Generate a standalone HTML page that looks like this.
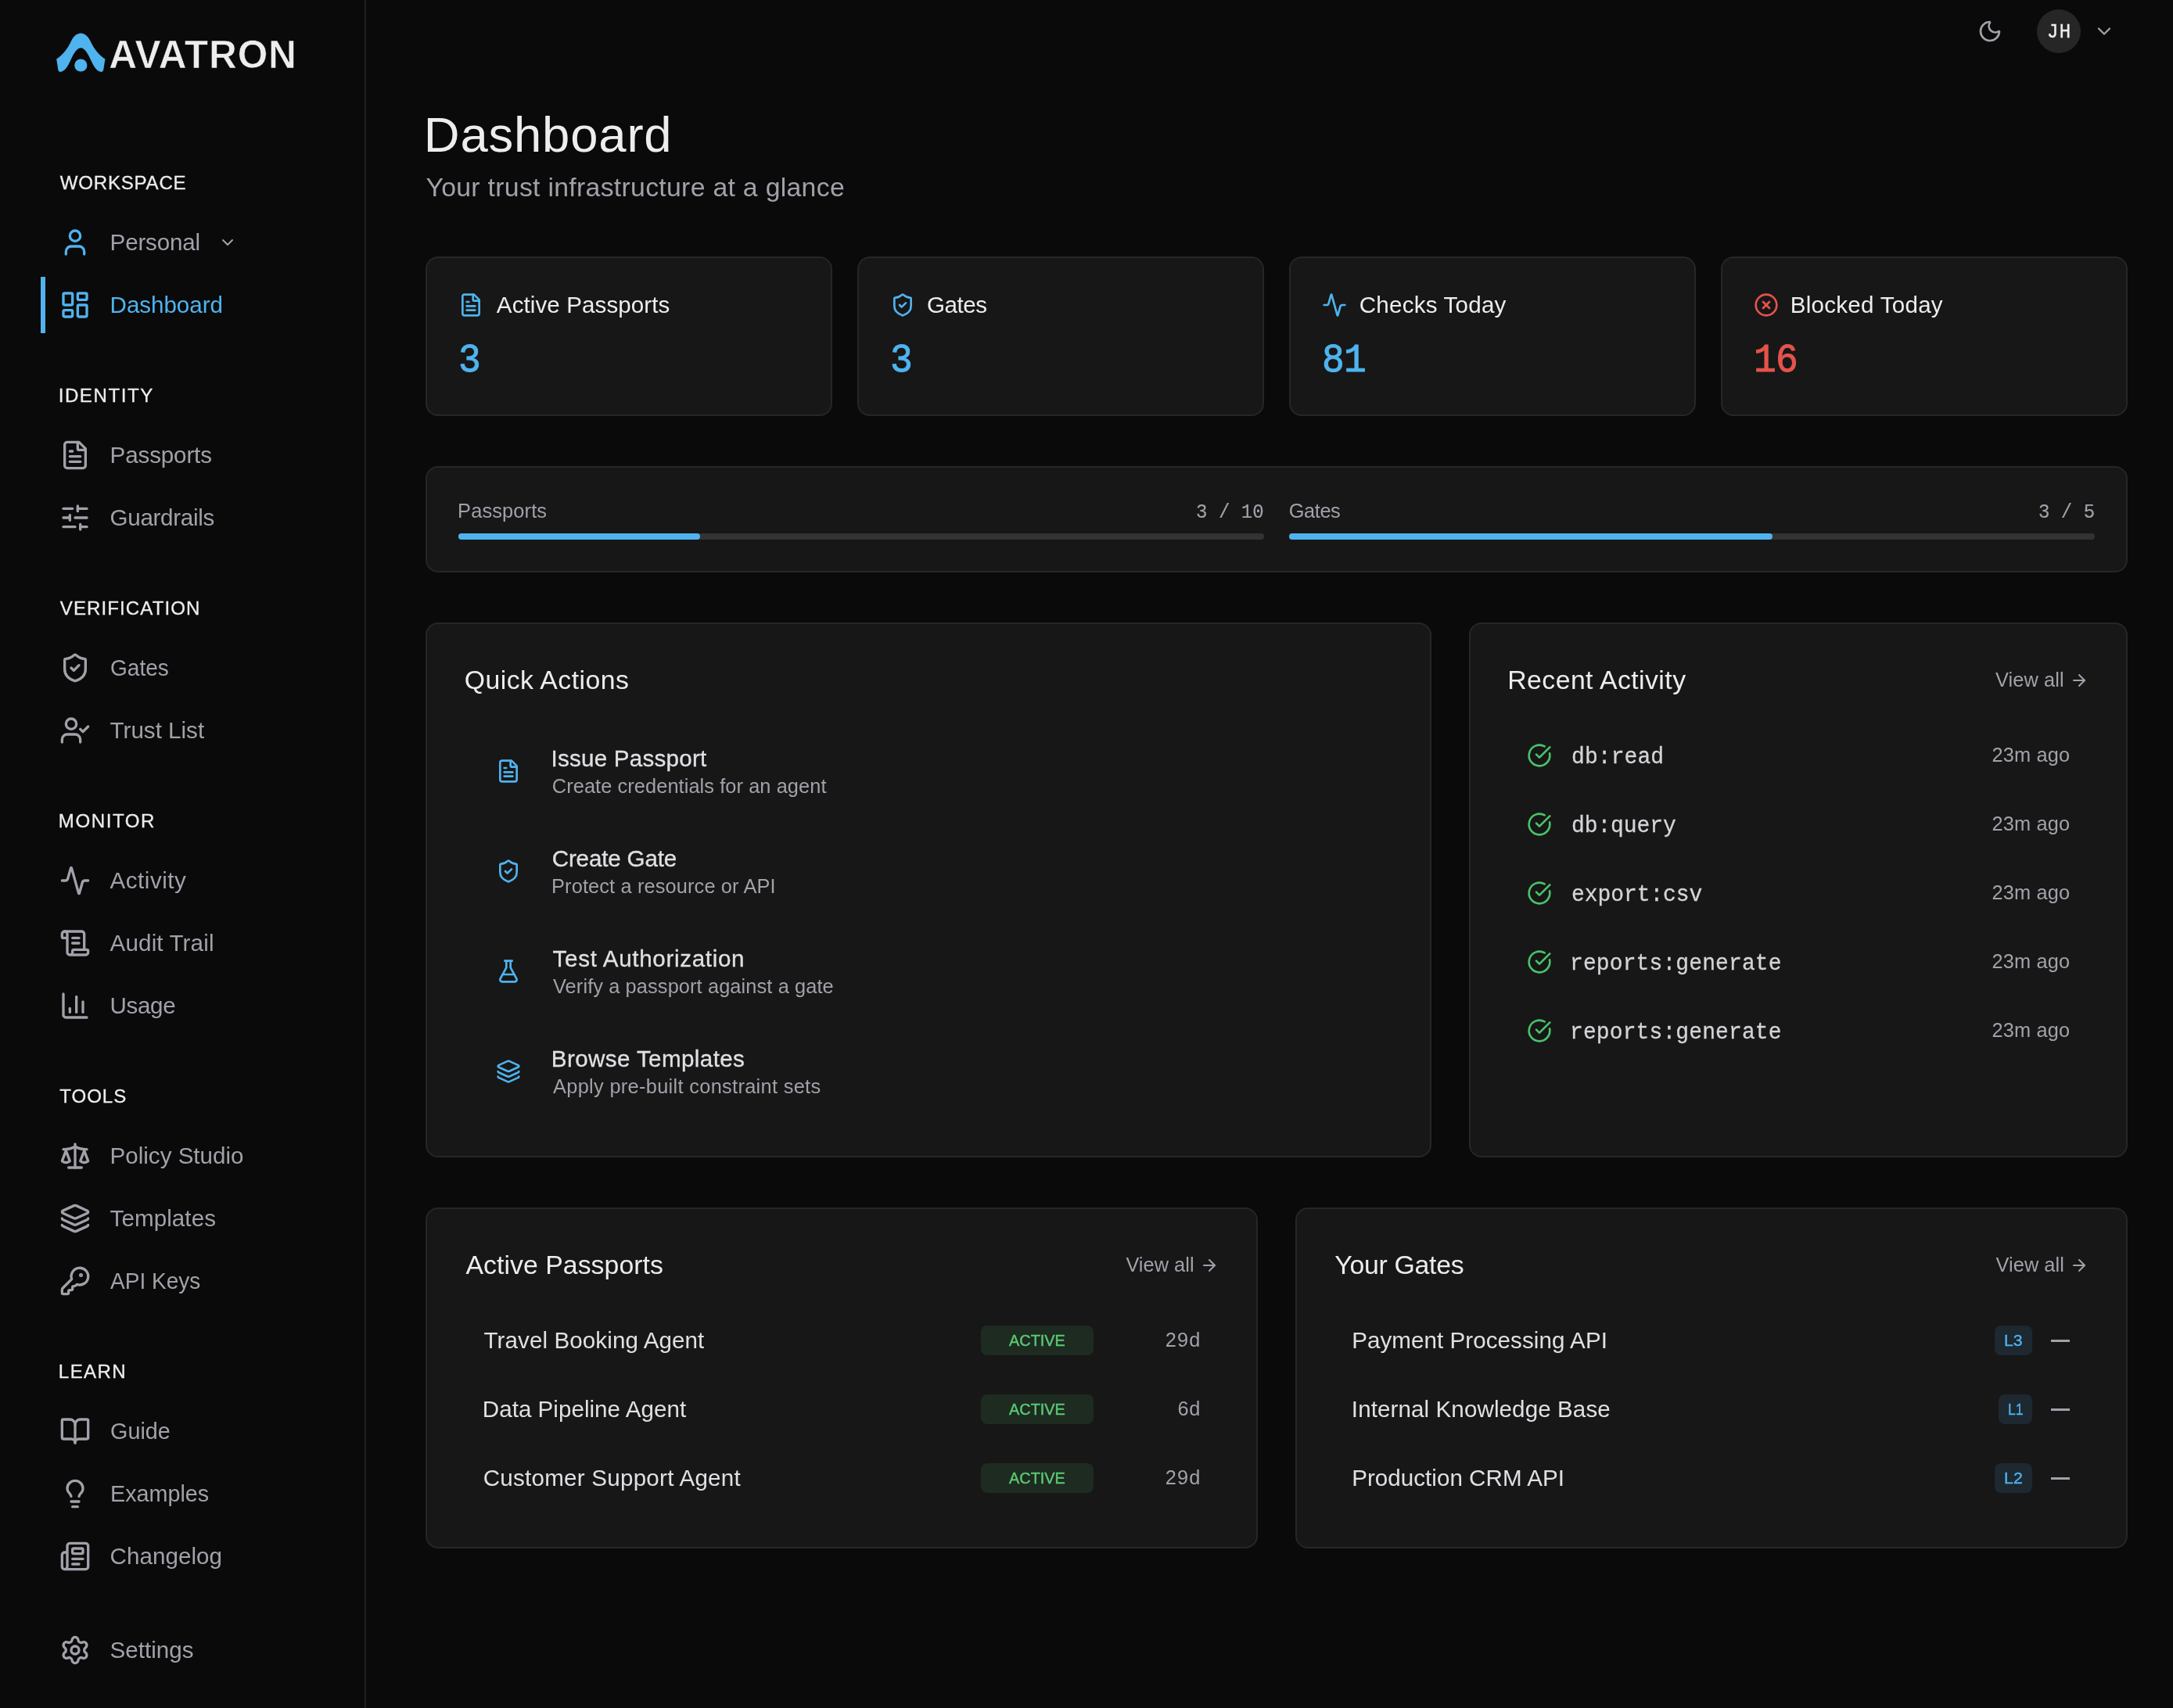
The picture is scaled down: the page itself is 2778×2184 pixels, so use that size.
<!DOCTYPE html>
<html lang="en">
<head>
<meta charset="utf-8">
<title>Avatron - Dashboard</title>
<style>
*{margin:0;padding:0;box-sizing:content-box}
html,body{width:2778px;height:2184px;overflow:hidden;background:#0a0a0a}
body{position:relative;font-family:"Liberation Sans", sans-serif;color:#ededed;will-change:transform}
.b,.i,.t{position:absolute;display:block}
.t{white-space:nowrap;line-height:1;font-weight:400;font-kerning:normal;transform-origin:0 0}
.i{overflow:visible}
.m{font-family:"Liberation Mono", monospace}
</style>
</head>
<body>
<aside>
<div class="b" style="left:0px;top:0px;width:466px;height:2184px;background:#0a0a0a;border-right:2px solid #1f1f1f;"></div>
<svg class="i" style="left:64px;top:34px" width="80" height="68" viewBox="64 34 80 68"><path fill="#4fb3ee" d="M72.2 75.4C80 70.5 86 63 91.3 51.9C94 46 98.5 42.4 103.3 42.4C108 42.4 112.5 46 115.3 51.9C120.5 63 126.5 70.5 134.4 75.4L132.3 89C132 91.6 129.5 92.6 127.5 91.6C122 89 119 83 115.5 75.4C112 68 108 61.3 103.3 61.3C98.5 61.3 94.5 68 91 75.4C87.5 83 84.5 89 79 91.6C77 92.6 74.5 91.6 74.3 89Z"/><circle fill="#4fb3ee" cx="103.3" cy="83.5" r="8.1"/></svg>
<span class="t" style="left:139.36px;top:45.70px;font-size:49.60px;color:#ededed;letter-spacing:0.901px;font-weight:700;-webkit-text-stroke:0.6px #0a0a0a;">AVATRON</span>
<span class="t" style="left:76.74px;top:221.95px;font-size:24.09px;color:#ededed;letter-spacing:0.774px;-webkit-text-stroke:0.3px currentColor;">WORKSPACE</span>
<svg class="i" style="left:76px;top:290px;color:#4fb3ee" width="40" height="40" viewBox="0 0 24 24" fill="none" stroke="currentColor" stroke-width="2" stroke-linecap="round" stroke-linejoin="round"><path d="M19 21v-2a4 4 0 0 0-4-4H9a4 4 0 0 0-4 4v2"/><circle cx="12" cy="7" r="4"/></svg>
<span class="t" style="left:140.60px;top:295.20px;font-size:29.59px;color:#a1a1aa;letter-spacing:-0.196px;">Personal</span>
<svg class="i" style="left:279.1px;top:298px;color:#a1a1aa" width="24" height="24" viewBox="0 0 24 24" fill="none" stroke="currentColor" stroke-width="2" stroke-linecap="round" stroke-linejoin="round"><path d="m6 9 6 6 6-6"/></svg>
<div class="b" style="left:52px;top:354px;width:6px;height:72px;background:#4fb3ee;"></div>
<svg class="i" style="left:76px;top:370px;color:#4fb3ee" width="40" height="40" viewBox="0 0 24 24" fill="none" stroke="currentColor" stroke-width="2" stroke-linecap="round" stroke-linejoin="round"><rect width="7" height="9" x="3" y="3" rx="1"/><rect width="7" height="5" x="14" y="3" rx="1"/><rect width="7" height="9" x="14" y="12" rx="1"/><rect width="7" height="5" x="3" y="16" rx="1"/></svg>
<span class="t" style="left:140.60px;top:375.20px;font-size:29.59px;color:#4fb3ee;letter-spacing:-0.049px;">Dashboard</span>
<span class="t" style="left:74.63px;top:493.95px;font-size:24.09px;color:#ededed;letter-spacing:1.578px;-webkit-text-stroke:0.3px currentColor;">IDENTITY</span>
<svg class="i" style="left:76px;top:562px;color:#a1a1aa" width="40" height="40" viewBox="0 0 24 24" fill="none" stroke="currentColor" stroke-width="2" stroke-linecap="round" stroke-linejoin="round"><path d="M15 2H6a2 2 0 0 0-2 2v16a2 2 0 0 0 2 2h12a2 2 0 0 0 2-2V7Z"/><path d="M14 2v5a1 1 0 0 0 1 1h5"/><path d="M10 9H8"/><path d="M16 13H8"/><path d="M16 17H8"/></svg>
<span class="t" style="left:140.60px;top:567.21px;font-size:29.59px;color:#a1a1aa;letter-spacing:-0.143px;">Passports</span>
<svg class="i" style="left:76px;top:642px;color:#a1a1aa" width="40" height="40" viewBox="0 0 24 24" fill="none" stroke="currentColor" stroke-width="2" stroke-linecap="round" stroke-linejoin="round"><path d="M10 5H3"/><path d="M12 19H3"/><path d="M14 3v4"/><path d="M16 17v4"/><path d="M21 12h-9"/><path d="M21 19h-5"/><path d="M21 5h-7"/><path d="M8 10v4"/><path d="M8 12H3"/></svg>
<span class="t" style="left:140.60px;top:647.21px;font-size:29.59px;color:#a1a1aa;letter-spacing:-0.309px;">Guardrails</span>
<span class="t" style="left:76.74px;top:765.96px;font-size:24.09px;color:#ededed;letter-spacing:1.090px;-webkit-text-stroke:0.3px currentColor;">VERIFICATION</span>
<svg class="i" style="left:76px;top:834px;color:#a1a1aa" width="40" height="40" viewBox="0 0 24 24" fill="none" stroke="currentColor" stroke-width="2" stroke-linecap="round" stroke-linejoin="round"><path d="M20 13c0 5-3.5 7.5-7.66 8.95a1 1 0 0 1-.67-.01C7.5 20.5 4 18 4 13V6a1 1 0 0 1 1-1c2 0 4.5-1.2 6.24-2.72a1.17 1.17 0 0 1 1.52 0C14.51 3.81 17 5 19 5a1 1 0 0 1 1 1z"/><path d="m9 12 2 2 4-4"/></svg>
<span class="t" style="left:140.60px;top:839.21px;font-size:29.59px;color:#a1a1aa;transform:scaleX(0.9492);">Gates</span>
<svg class="i" style="left:76px;top:914px;color:#a1a1aa" width="40" height="40" viewBox="0 0 24 24" fill="none" stroke="currentColor" stroke-width="2" stroke-linecap="round" stroke-linejoin="round"><path d="m16 11 2 2 4-4"/><path d="M16 21v-2a4 4 0 0 0-4-4H6a4 4 0 0 0-4 4v2"/><circle cx="9" cy="7" r="4"/></svg>
<span class="t" style="left:140.60px;top:919.21px;font-size:29.59px;color:#a1a1aa;">Trust List</span>
<span class="t" style="left:74.87px;top:1037.95px;font-size:24.09px;color:#ededed;letter-spacing:1.538px;-webkit-text-stroke:0.3px currentColor;">MONITOR</span>
<svg class="i" style="left:76px;top:1106px;color:#a1a1aa" width="40" height="40" viewBox="0 0 24 24" fill="none" stroke="currentColor" stroke-width="2" stroke-linecap="round" stroke-linejoin="round"><path d="M22 12h-2.48a2 2 0 0 0-1.93 1.46l-2.35 8.36a.25.25 0 0 1-.48 0L9.24 2.18a.25.25 0 0 0-.48 0l-2.35 8.36A2 2 0 0 1 4.49 12H2"/></svg>
<span class="t" style="left:140.60px;top:1111.20px;font-size:29.59px;color:#a1a1aa;letter-spacing:0.496px;">Activity</span>
<svg class="i" style="left:76px;top:1186px;color:#a1a1aa" width="40" height="40" viewBox="0 0 24 24" fill="none" stroke="currentColor" stroke-width="2" stroke-linecap="round" stroke-linejoin="round"><path d="M15 12h-5"/><path d="M15 8h-5"/><path d="M19 17V5a2 2 0 0 0-2-2H4"/><path d="M8 21h12a2 2 0 0 0 2-2v-1a1 1 0 0 0-1-1H11a1 1 0 0 0-1 1v1a2 2 0 1 1-4 0V5a2 2 0 1 0-4 0v2a1 1 0 0 0 1 1h3"/></svg>
<span class="t" style="left:140.60px;top:1191.20px;font-size:29.59px;color:#a1a1aa;letter-spacing:0.136px;">Audit Trail</span>
<svg class="i" style="left:76px;top:1266px;color:#a1a1aa" width="40" height="40" viewBox="0 0 24 24" fill="none" stroke="currentColor" stroke-width="2" stroke-linecap="round" stroke-linejoin="round"><path d="M3 3v16a2 2 0 0 0 2 2h16"/><path d="M18 17V9"/><path d="M13 17V5"/><path d="M8 17v-3"/></svg>
<span class="t" style="left:140.60px;top:1271.20px;font-size:29.59px;color:#a1a1aa;letter-spacing:-0.371px;">Usage</span>
<span class="t" style="left:76.31px;top:1389.95px;font-size:24.09px;color:#ededed;letter-spacing:0.940px;-webkit-text-stroke:0.3px currentColor;">TOOLS</span>
<svg class="i" style="left:76px;top:1458px;color:#a1a1aa" width="40" height="40" viewBox="0 0 24 24" fill="none" stroke="currentColor" stroke-width="2" stroke-linecap="round" stroke-linejoin="round"><path d="M12 3v18"/><path d="m19 8 3 8a5 5 0 0 1-6 0zV7"/><path d="M3 7h1a17 17 0 0 0 8-2 17 17 0 0 0 8 2h1"/><path d="m5 8 3 8a5 5 0 0 1-6 0zV7"/><path d="M7 21h10"/></svg>
<span class="t" style="left:140.60px;top:1463.20px;font-size:29.59px;color:#a1a1aa;letter-spacing:-0.012px;">Policy Studio</span>
<svg class="i" style="left:76px;top:1538px;color:#a1a1aa" width="40" height="40" viewBox="0 0 24 24" fill="none" stroke="currentColor" stroke-width="2" stroke-linecap="round" stroke-linejoin="round"><path d="M12.83 2.18a2 2 0 0 0-1.66 0L2.6 6.08a1 1 0 0 0 0 1.83l8.58 3.91a2 2 0 0 0 1.66 0l8.58-3.9a1 1 0 0 0 0-1.83z"/><path d="M2 12a1 1 0 0 0 .58.91l8.6 3.91a2 2 0 0 0 1.65 0l8.58-3.9A1 1 0 0 0 22 12"/><path d="M2 17a1 1 0 0 0 .58.91l8.6 3.91a2 2 0 0 0 1.65 0l8.58-3.9A1 1 0 0 0 22 17"/></svg>
<span class="t" style="left:140.60px;top:1543.20px;font-size:29.59px;color:#a1a1aa;letter-spacing:0.070px;">Templates</span>
<svg class="i" style="left:76px;top:1618px;color:#a1a1aa" width="40" height="40" viewBox="0 0 24 24" fill="none" stroke="currentColor" stroke-width="2" stroke-linecap="round" stroke-linejoin="round"><path d="M2.586 17.414A2 2 0 0 0 2 18.828V21a1 1 0 0 0 1 1h3a1 1 0 0 0 1-1v-1a1 1 0 0 1 1-1h1a1 1 0 0 0 1-1v-1a1 1 0 0 1 1-1h.172a2 2 0 0 0 1.414-.586l.814-.814a6.5 6.5 0 1 0-4-4z"/><circle cx="16.5" cy="7.5" r=".5" fill="currentColor"/></svg>
<span class="t" style="left:140.60px;top:1623.20px;font-size:29.59px;color:#a1a1aa;transform:scaleX(0.9479);">API Keys</span>
<span class="t" style="left:74.87px;top:1741.95px;font-size:24.09px;color:#ededed;letter-spacing:1.386px;-webkit-text-stroke:0.3px currentColor;">LEARN</span>
<svg class="i" style="left:76px;top:1810px;color:#a1a1aa" width="40" height="40" viewBox="0 0 24 24" fill="none" stroke="currentColor" stroke-width="2" stroke-linecap="round" stroke-linejoin="round"><path d="M12 7v14"/><path d="M3 18a1 1 0 0 1-1-1V4a1 1 0 0 1 1-1h5a4 4 0 0 1 4 4 4 4 0 0 1 4-4h5a1 1 0 0 1 1 1v13a1 1 0 0 1-1 1h-6a3 3 0 0 0-3 3 3 3 0 0 0-3-3z"/></svg>
<span class="t" style="left:140.60px;top:1815.20px;font-size:29.59px;color:#a1a1aa;transform:scaleX(0.9727);">Guide</span>
<svg class="i" style="left:76px;top:1890px;color:#a1a1aa" width="40" height="40" viewBox="0 0 24 24" fill="none" stroke="currentColor" stroke-width="2" stroke-linecap="round" stroke-linejoin="round"><path d="M15 14c.2-1 .7-1.7 1.5-2.5 1-.9 1.5-2.2 1.5-3.5A6 6 0 0 0 6 8c0 1 .2 2.2 1.5 3.5.7.7 1.3 1.5 1.5 2.5"/><path d="M9 18h6"/><path d="M10 22h4"/></svg>
<span class="t" style="left:140.60px;top:1895.20px;font-size:29.59px;color:#a1a1aa;transform:scaleX(0.9712);">Examples</span>
<svg class="i" style="left:76px;top:1970px;color:#a1a1aa" width="40" height="40" viewBox="0 0 24 24" fill="none" stroke="currentColor" stroke-width="2" stroke-linecap="round" stroke-linejoin="round"><path d="M15 18h-5"/><path d="M18 14h-8"/><path d="M4 22h16a2 2 0 0 0 2-2V4a2 2 0 0 0-2-2H8a2 2 0 0 0-2 2v16a2 2 0 0 1-4 0v-9a2 2 0 0 1 2-2h2"/><rect width="8" height="4" x="10" y="6" rx="1"/></svg>
<span class="t" style="left:140.60px;top:1975.20px;font-size:29.59px;color:#a1a1aa;letter-spacing:0.039px;">Changelog</span>
<svg class="i" style="left:76px;top:2090px;color:#a1a1aa" width="40" height="40" viewBox="0 0 24 24" fill="none" stroke="currentColor" stroke-width="2" stroke-linecap="round" stroke-linejoin="round"><path d="M9.671 4.136a2.34 2.34 0 0 1 4.659 0 2.34 2.34 0 0 0 3.319 1.915 2.34 2.34 0 0 1 2.33 4.033 2.34 2.34 0 0 0 0 3.831 2.34 2.34 0 0 1-2.33 4.033 2.34 2.34 0 0 0-3.319 1.915 2.34 2.34 0 0 1-4.659 0 2.34 2.34 0 0 0-3.32-1.915 2.34 2.34 0 0 1-2.33-4.033 2.34 2.34 0 0 0 0-3.831A2.34 2.34 0 0 1 6.35 6.051a2.34 2.34 0 0 0 3.319-1.915"/><circle cx="12" cy="12" r="3"/></svg>
<span class="t" style="left:140.60px;top:2095.20px;font-size:29.59px;color:#a1a1aa;letter-spacing:0.013px;">Settings</span>
</aside>
<header>
<svg class="i" style="left:2528px;top:24px;color:#a1a1aa" width="32" height="32" viewBox="0 0 24 24" fill="none" stroke="currentColor" stroke-width="2" stroke-linecap="round" stroke-linejoin="round"><path d="M20.985 12.486a9 9 0 1 1-9.473-9.472c.405-.022.617.46.402.803a6 6 0 0 0 8.268 8.268c.344-.215.825-.004.803.401"/></svg>
<div class="b" style="left:2604px;top:12px;width:56px;height:56px;background:#262626;border-radius:28px;"></div>
<span class="t m" style="left:2616.52px;top:28.30px;font-size:26.40px;color:#ededed;letter-spacing:1.432px;transform:scaleX(0.9091);-webkit-text-stroke:0.4px currentColor;">JH</span>
<svg class="i" style="left:2676px;top:26px;color:#a1a1aa" width="28" height="28" viewBox="0 0 24 24" fill="none" stroke="currentColor" stroke-width="2" stroke-linecap="round" stroke-linejoin="round"><path d="m6 9 6 6 6-6"/></svg>
</header>
<main>
<h1 class="t" style="left:541.80px;top:140.80px;font-size:63.40px;color:#ededed;letter-spacing:0.833px;">Dashboard</h1>
<p class="t" style="left:544.46px;top:222.59px;font-size:33.81px;color:#a1a1aa;letter-spacing:0.291px;">Your trust infrastructure at a glance</p>
<div class="b" style="left:544px;top:328px;width:516px;height:200px;background:#171717;border:2px solid #262626;border-radius:16px;"></div>
<svg class="i" style="left:586px;top:374px;color:#4fb3ee" width="32" height="32" viewBox="0 0 24 24" fill="none" stroke="currentColor" stroke-width="2" stroke-linecap="round" stroke-linejoin="round"><path d="M15 2H6a2 2 0 0 0-2 2v16a2 2 0 0 0 2 2h12a2 2 0 0 0 2-2V7Z"/><path d="M14 2v5a1 1 0 0 0 1 1h5"/><path d="M10 9H8"/><path d="M16 13H8"/><path d="M16 17H8"/></svg>
<span class="t" style="left:634.84px;top:375.20px;font-size:29.59px;color:#ededed;letter-spacing:0.083px;">Active Passports</span>
<span class="t m" style="left:586.36px;top:435.34px;font-size:52.32px;color:#4fb3ee;transform:scaleX(0.9174);-webkit-text-stroke:1.0px currentColor;">3</span>
<div class="b" style="left:1096px;top:328px;width:516px;height:200px;background:#171717;border:2px solid #262626;border-radius:16px;"></div>
<svg class="i" style="left:1138px;top:374px;color:#4fb3ee" width="32" height="32" viewBox="0 0 24 24" fill="none" stroke="currentColor" stroke-width="2" stroke-linecap="round" stroke-linejoin="round"><path d="M20 13c0 5-3.5 7.5-7.66 8.95a1 1 0 0 1-.67-.01C7.5 20.5 4 18 4 13V6a1 1 0 0 1 1-1c2 0 4.5-1.2 6.24-2.72a1.17 1.17 0 0 1 1.52 0C14.51 3.81 17 5 19 5a1 1 0 0 1 1 1z"/><path d="m9 12 2 2 4-4"/></svg>
<span class="t" style="left:1184.91px;top:375.20px;font-size:29.59px;color:#ededed;letter-spacing:-0.441px;">Gates</span>
<span class="t m" style="left:1138.36px;top:435.34px;font-size:52.32px;color:#4fb3ee;transform:scaleX(0.9174);-webkit-text-stroke:1.0px currentColor;">3</span>
<div class="b" style="left:1648px;top:328px;width:516px;height:200px;background:#171717;border:2px solid #262626;border-radius:16px;"></div>
<svg class="i" style="left:1690px;top:374px;color:#4fb3ee" width="32" height="32" viewBox="0 0 24 24" fill="none" stroke="currentColor" stroke-width="2" stroke-linecap="round" stroke-linejoin="round"><path d="M22 12h-2.48a2 2 0 0 0-1.93 1.46l-2.35 8.36a.25.25 0 0 1-.48 0L9.24 2.18a.25.25 0 0 0-.48 0l-2.35 8.36A2 2 0 0 1 4.49 12H2"/></svg>
<span class="t" style="left:1737.80px;top:375.20px;font-size:29.59px;color:#ededed;letter-spacing:0.210px;">Checks Today</span>
<span class="t m" style="left:1690.14px;top:435.34px;font-size:52.32px;color:#4fb3ee;letter-spacing:-0.754px;transform:scaleX(0.9174);-webkit-text-stroke:1.0px currentColor;">81</span>
<div class="b" style="left:2200px;top:328px;width:516px;height:200px;background:#171717;border:2px solid #262626;border-radius:16px;"></div>
<svg class="i" style="left:2242px;top:374px;color:#e5534b" width="32" height="32" viewBox="0 0 24 24" fill="none" stroke="currentColor" stroke-width="2" stroke-linecap="round" stroke-linejoin="round"><circle cx="12" cy="12" r="10"/><path d="m15 9-6 6"/><path d="m9 9 6 6"/></svg>
<span class="t" style="left:2288.77px;top:375.20px;font-size:29.59px;color:#ededed;letter-spacing:0.253px;">Blocked Today</span>
<span class="t m" style="left:2242.49px;top:435.34px;font-size:52.32px;color:#e5534b;letter-spacing:-0.919px;transform:scaleX(0.9174);-webkit-text-stroke:1.0px currentColor;">16</span>
<div class="b" style="left:544px;top:596px;width:2172px;height:132px;background:#171717;border:2px solid #262626;border-radius:16px;"></div>
<span class="t" style="left:585.12px;top:640.82px;font-size:25.36px;color:#a1a1aa;letter-spacing:0.141px;">Passports</span>
<span class="t m" style="left:1529.39px;top:642.30px;font-size:26.40px;color:#a1a1aa;letter-spacing:0.045px;transform:scaleX(0.9091);-webkit-text-stroke:0.2px currentColor;">3 / 10</span>
<div class="b" style="left:586px;top:682px;width:1030px;height:8px;background:#333333;border-radius:4px;"></div>
<div class="b" style="left:586px;top:682px;width:309px;height:8px;background:#4fb3ee;border-radius:4px;"></div>
<span class="t" style="left:1647.82px;top:640.82px;font-size:25.36px;color:#a1a1aa;letter-spacing:-0.420px;">Gates</span>
<span class="t m" style="left:2605.89px;top:642.30px;font-size:26.40px;color:#a1a1aa;letter-spacing:0.042px;transform:scaleX(0.9091);-webkit-text-stroke:0.2px currentColor;">3 / 5</span>
<div class="b" style="left:1648px;top:682px;width:1030px;height:8px;background:#333333;border-radius:4px;"></div>
<div class="b" style="left:1648px;top:682px;width:618px;height:8px;background:#4fb3ee;border-radius:4px;"></div>
<div class="b" style="left:544px;top:796px;width:1282px;height:680px;background:#171717;border:2px solid #262626;border-radius:16px;"></div>
<h2 class="t" style="left:593.70px;top:852.60px;font-size:33.81px;color:#ededed;letter-spacing:0.456px;">Quick Actions</h2>
<svg class="i" style="left:634px;top:970px;color:#4fb3ee" width="32" height="32" viewBox="0 0 24 24" fill="none" stroke="currentColor" stroke-width="2" stroke-linecap="round" stroke-linejoin="round"><path d="M15 2H6a2 2 0 0 0-2 2v16a2 2 0 0 0 2 2h12a2 2 0 0 0 2-2V7Z"/><path d="M14 2v5a1 1 0 0 0 1 1h5"/><path d="M10 9H8"/><path d="M16 13H8"/><path d="M16 17H8"/></svg>
<span class="t" style="left:704.52px;top:955.21px;font-size:29.59px;color:#e0e0e4;letter-spacing:0.239px;-webkit-text-stroke:0.3px currentColor;">Issue Passport</span>
<span class="t" style="left:705.81px;top:992.82px;font-size:25.36px;color:#a1a1aa;letter-spacing:0.082px;">Create credentials for an agent</span>
<svg class="i" style="left:634px;top:1098px;color:#4fb3ee" width="32" height="32" viewBox="0 0 24 24" fill="none" stroke="currentColor" stroke-width="2" stroke-linecap="round" stroke-linejoin="round"><path d="M20 13c0 5-3.5 7.5-7.66 8.95a1 1 0 0 1-.67-.01C7.5 20.5 4 18 4 13V6a1 1 0 0 1 1-1c2 0 4.5-1.2 6.24-2.72a1.17 1.17 0 0 1 1.52 0C14.51 3.81 17 5 19 5a1 1 0 0 1 1 1z"/><path d="m9 12 2 2 4-4"/></svg>
<span class="t" style="left:705.75px;top:1083.20px;font-size:29.59px;color:#e0e0e4;letter-spacing:-0.171px;-webkit-text-stroke:0.3px currentColor;">Create Gate</span>
<span class="t" style="left:705.02px;top:1120.82px;font-size:25.36px;color:#a1a1aa;letter-spacing:0.134px;">Protect a resource or API</span>
<svg class="i" style="left:634px;top:1226px;color:#4fb3ee" width="32" height="32" viewBox="0 0 24 24" fill="none" stroke="currentColor" stroke-width="2" stroke-linecap="round" stroke-linejoin="round"><path d="M14 2v6a2 2 0 0 0 .245.96l5.51 10.08A2 2 0 0 1 18 22H6a2 2 0 0 1-1.755-2.96l5.51-10.08A2 2 0 0 0 10 8V2"/><path d="M6.453 15h11.094"/><path d="M8.5 2h7"/></svg>
<span class="t" style="left:706.59px;top:1211.20px;font-size:29.59px;color:#e0e0e4;letter-spacing:0.677px;-webkit-text-stroke:0.3px currentColor;">Test Authorization</span>
<span class="t" style="left:706.99px;top:1248.82px;font-size:25.36px;color:#a1a1aa;letter-spacing:0.112px;">Verify a passport against a gate</span>
<svg class="i" style="left:634px;top:1354px;color:#4fb3ee" width="32" height="32" viewBox="0 0 24 24" fill="none" stroke="currentColor" stroke-width="2" stroke-linecap="round" stroke-linejoin="round"><path d="M12.83 2.18a2 2 0 0 0-1.66 0L2.6 6.08a1 1 0 0 0 0 1.83l8.58 3.91a2 2 0 0 0 1.66 0l8.58-3.9a1 1 0 0 0 0-1.83z"/><path d="M2 12a1 1 0 0 0 .58.91l8.6 3.91a2 2 0 0 0 1.65 0l8.58-3.9A1 1 0 0 0 22 12"/><path d="M2 17a1 1 0 0 0 .58.91l8.6 3.91a2 2 0 0 0 1.65 0l8.58-3.9A1 1 0 0 0 22 17"/></svg>
<span class="t" style="left:704.82px;top:1339.20px;font-size:29.59px;color:#e0e0e4;letter-spacing:0.398px;-webkit-text-stroke:0.3px currentColor;">Browse Templates</span>
<span class="t" style="left:707.05px;top:1376.82px;font-size:25.36px;color:#a1a1aa;letter-spacing:0.314px;">Apply pre-built constraint sets</span>
<div class="b" style="left:1878px;top:796px;width:838px;height:680px;background:#171717;border:2px solid #262626;border-radius:16px;"></div>
<h2 class="t" style="left:1927.23px;top:852.60px;font-size:33.81px;color:#ededed;letter-spacing:0.442px;">Recent Activity</h2>
<span class="t" style="left:2550.99px;top:856.82px;font-size:25.36px;color:#a1a1aa;letter-spacing:0.096px;">View all</span>
<svg class="i" style="left:2646px;top:858.2px;color:#a1a1aa" width="24" height="24" viewBox="0 0 24 24" fill="none" stroke="currentColor" stroke-width="2" stroke-linecap="round" stroke-linejoin="round"><path d="M5 12h14"/><path d="m12 5 7 7-7 7"/></svg>
<svg class="i" style="left:1952px;top:950px;color:#4ac26b" width="32" height="32" viewBox="0 0 24 24" fill="none" stroke="currentColor" stroke-width="2" stroke-linecap="round" stroke-linejoin="round"><path d="M21.801 10A10 10 0 1 1 17 3.335"/><path d="m9 11 3 3L22 4"/></svg>
<span class="t m" style="left:2008.76px;top:954.37px;font-size:29.26px;color:#d4d4d8;letter-spacing:0.100px;transform:scaleX(0.9569);-webkit-text-stroke:0.3px currentColor;">db:read</span>
<span class="t" style="left:2546.52px;top:952.82px;font-size:25.36px;color:#a1a1aa;letter-spacing:0.140px;">23m ago</span>
<svg class="i" style="left:1952px;top:1038px;color:#4ac26b" width="32" height="32" viewBox="0 0 24 24" fill="none" stroke="currentColor" stroke-width="2" stroke-linecap="round" stroke-linejoin="round"><path d="M21.801 10A10 10 0 1 1 17 3.335"/><path d="m9 11 3 3L22 4"/></svg>
<span class="t m" style="left:2008.76px;top:1042.37px;font-size:29.26px;color:#d4d4d8;letter-spacing:-0.099px;transform:scaleX(0.9569);-webkit-text-stroke:0.3px currentColor;">db:query</span>
<span class="t" style="left:2546.52px;top:1040.82px;font-size:25.36px;color:#a1a1aa;letter-spacing:0.140px;">23m ago</span>
<svg class="i" style="left:1952px;top:1126px;color:#4ac26b" width="32" height="32" viewBox="0 0 24 24" fill="none" stroke="currentColor" stroke-width="2" stroke-linecap="round" stroke-linejoin="round"><path d="M21.801 10A10 10 0 1 1 17 3.335"/><path d="m9 11 3 3L22 4"/></svg>
<span class="t m" style="left:2008.83px;top:1130.37px;font-size:29.26px;color:#d4d4d8;letter-spacing:-0.068px;transform:scaleX(0.9569);-webkit-text-stroke:0.3px currentColor;">export:csv</span>
<span class="t" style="left:2546.52px;top:1128.82px;font-size:25.36px;color:#a1a1aa;letter-spacing:0.140px;">23m ago</span>
<svg class="i" style="left:1952px;top:1214px;color:#4ac26b" width="32" height="32" viewBox="0 0 24 24" fill="none" stroke="currentColor" stroke-width="2" stroke-linecap="round" stroke-linejoin="round"><path d="M21.801 10A10 10 0 1 1 17 3.335"/><path d="m9 11 3 3L22 4"/></svg>
<span class="t m" style="left:2007.33px;top:1218.37px;font-size:29.26px;color:#d4d4d8;letter-spacing:0.126px;transform:scaleX(0.9569);-webkit-text-stroke:0.3px currentColor;">reports:generate</span>
<span class="t" style="left:2546.52px;top:1216.82px;font-size:25.36px;color:#a1a1aa;letter-spacing:0.140px;">23m ago</span>
<svg class="i" style="left:1952px;top:1302px;color:#4ac26b" width="32" height="32" viewBox="0 0 24 24" fill="none" stroke="currentColor" stroke-width="2" stroke-linecap="round" stroke-linejoin="round"><path d="M21.801 10A10 10 0 1 1 17 3.335"/><path d="m9 11 3 3L22 4"/></svg>
<span class="t m" style="left:2007.33px;top:1306.37px;font-size:29.26px;color:#d4d4d8;letter-spacing:0.126px;transform:scaleX(0.9569);-webkit-text-stroke:0.3px currentColor;">reports:generate</span>
<span class="t" style="left:2546.52px;top:1304.82px;font-size:25.36px;color:#a1a1aa;letter-spacing:0.140px;">23m ago</span>
<div class="b" style="left:544px;top:1544px;width:1060px;height:432px;background:#171717;border:2px solid #262626;border-radius:16px;"></div>
<h2 class="t" style="left:595.43px;top:1600.60px;font-size:33.81px;color:#ededed;letter-spacing:0.052px;">Active Passports</h2>
<span class="t" style="left:1439.39px;top:1604.82px;font-size:25.36px;color:#a1a1aa;letter-spacing:0.039px;">View all</span>
<svg class="i" style="left:1534.2px;top:1606.2px;color:#a1a1aa" width="24" height="24" viewBox="0 0 24 24" fill="none" stroke="currentColor" stroke-width="2" stroke-linecap="round" stroke-linejoin="round"><path d="M5 12h14"/><path d="m12 5 7 7-7 7"/></svg>
<span class="t" style="left:618.54px;top:1699.20px;font-size:29.59px;color:#e0e0e4;letter-spacing:0.090px;">Travel Booking Agent</span>
<div class="b" style="left:1254px;top:1695px;width:144px;height:38px;background:#1d2b21;border-radius:8px;"></div>
<span class="t" style="left:1290.37px;top:1703.43px;font-size:21.13px;color:#5bc873;transform:scaleX(0.9418);-webkit-text-stroke:0.45px currentColor;">ACTIVE</span>
<span class="t" style="left:1489.72px;top:1700.82px;font-size:25.36px;color:#a1a1aa;letter-spacing:1.199px;">29d</span>
<span class="t" style="left:616.77px;top:1787.20px;font-size:29.59px;color:#e0e0e4;letter-spacing:0.029px;">Data Pipeline Agent</span>
<div class="b" style="left:1254px;top:1783px;width:144px;height:38px;background:#1d2b21;border-radius:8px;"></div>
<span class="t" style="left:1290.37px;top:1791.43px;font-size:21.13px;color:#5bc873;transform:scaleX(0.9418);-webkit-text-stroke:0.45px currentColor;">ACTIVE</span>
<span class="t" style="left:1505.42px;top:1788.82px;font-size:25.36px;color:#a1a1aa;letter-spacing:0.800px;">6d</span>
<span class="t" style="left:617.70px;top:1875.20px;font-size:29.59px;color:#e0e0e4;letter-spacing:0.243px;">Customer Support Agent</span>
<div class="b" style="left:1254px;top:1871px;width:144px;height:38px;background:#1d2b21;border-radius:8px;"></div>
<span class="t" style="left:1290.37px;top:1879.43px;font-size:21.13px;color:#5bc873;transform:scaleX(0.9418);-webkit-text-stroke:0.45px currentColor;">ACTIVE</span>
<span class="t" style="left:1489.72px;top:1876.82px;font-size:25.36px;color:#a1a1aa;letter-spacing:1.199px;">29d</span>
<div class="b" style="left:1656px;top:1544px;width:1060px;height:432px;background:#171717;border:2px solid #262626;border-radius:16px;"></div>
<h2 class="t" style="left:1706.26px;top:1600.60px;font-size:33.81px;color:#ededed;letter-spacing:-0.277px;">Your Gates</h2>
<span class="t" style="left:2551.49px;top:1604.82px;font-size:25.36px;color:#a1a1aa;letter-spacing:0.067px;">View all</span>
<svg class="i" style="left:2646.2px;top:1606.2px;color:#a1a1aa" width="24" height="24" viewBox="0 0 24 24" fill="none" stroke="currentColor" stroke-width="2" stroke-linecap="round" stroke-linejoin="round"><path d="M5 12h14"/><path d="m12 5 7 7-7 7"/></svg>
<span class="t" style="left:1728.17px;top:1699.20px;font-size:29.59px;color:#e0e0e4;letter-spacing:0.058px;">Payment Processing API</span>
<div class="b" style="left:2550px;top:1695px;width:48px;height:38px;background:#1d2831;border-radius:8px;"></div>
<span class="t" style="left:2562.13px;top:1703.43px;font-size:21.13px;color:#4fb3ee;transform:scaleX(1.0053);-webkit-text-stroke:0.35px currentColor;">L3</span>
<div class="b" style="left:2622px;top:1713.1px;width:24px;height:2.6px;background:#a1a1aa;"></div>
<span class="t" style="left:1727.87px;top:1787.20px;font-size:29.59px;color:#e0e0e4;letter-spacing:0.090px;">Internal Knowledge Base</span>
<div class="b" style="left:2555px;top:1783px;width:43px;height:38px;background:#1d2831;border-radius:8px;"></div>
<span class="t" style="left:2566.70px;top:1791.43px;font-size:21.13px;color:#4fb3ee;transform:scaleX(0.8347);-webkit-text-stroke:0.35px currentColor;">L1</span>
<div class="b" style="left:2622px;top:1801.1px;width:24px;height:2.6px;background:#a1a1aa;"></div>
<span class="t" style="left:1728.17px;top:1875.20px;font-size:29.59px;color:#e0e0e4;letter-spacing:0.030px;">Production CRM API</span>
<div class="b" style="left:2550px;top:1871px;width:48px;height:38px;background:#1d2831;border-radius:8px;"></div>
<span class="t" style="left:2562.12px;top:1879.43px;font-size:21.13px;color:#4fb3ee;transform:scaleX(1.0117);-webkit-text-stroke:0.35px currentColor;">L2</span>
<div class="b" style="left:2622px;top:1889.1px;width:24px;height:2.6px;background:#a1a1aa;"></div>
</main>
</body>
</html>
